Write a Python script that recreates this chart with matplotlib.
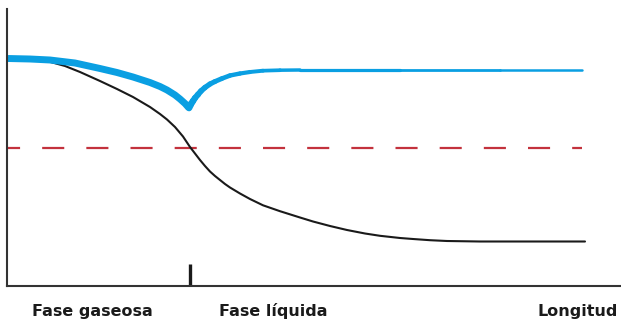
import matplotlib
matplotlib.use("Agg")
import matplotlib.pyplot as plt
from matplotlib.collections import LineCollection
import numpy as np

# data (x = longitud, y = arbitrary level)
black_x = [8, 30, 47, 65, 80, 100, 117, 133, 150, 160, 167, 175, 183, 190, 195, 200, 205, 210, 215,
           220, 225, 230, 240, 250, 263, 280, 300, 313, 330, 347, 365, 380, 400, 413, 430, 447, 480, 585]
black_y = [228, 227, 225, 220, 214, 205, 197, 189, 179, 172, 166.5, 159, 149.5, 139, 132.5, 126, 120, 114.5, 110,
           106, 102, 98.5, 92.5, 87, 80.7, 74.8, 68.5, 64.5, 60, 56, 52.5, 50.2, 48, 47, 45.8, 45, 44.5, 44.5]

blue_gas_x = [8, 30, 50, 75, 100, 117, 133, 150, 160, 167, 175, 180, 185, 189]
blue_gas_y = [227.5, 227, 226, 223, 217.5, 213.5, 209, 203.5, 199.5, 196, 191, 187, 182.5, 178]

blue_liq_x = [189, 191, 193, 195, 198, 201, 205, 210, 215, 222, 230, 240, 250, 263, 280, 300, 400, 500, 582]
blue_liq_y = [178, 182, 185, 188, 191.5, 195, 198.5, 202, 204.5, 207.5, 210.5, 212.5, 214, 215.3, 215.8, 216,
              216, 216, 216]

ref_x = [8, 582]
ref_y = [138, 138]

phase_boundary = 190
labels = ["Fase gaseosa", "Fase líquida", "Longitud"]

blue = "#0a9fe2"
red = "#c3323d"
dark = "#333333"

plt.rcParams['lines.scale_dashes'] = False

fig = plt.figure(figsize=(6.21, 3.22), dpi=100)
W, H = 621, 322
ax = fig.add_axes([7 / W, (H - 286) / H, 614 / W, 277 / H])
ax.set_xlim(7, 621)
ax.set_ylim(0, 277)

# dashed reference line
ax.plot(ref_x, ref_y, color=red, lw=1.6, linestyle=(7.2, (15.9, 15.9)), dash_capstyle='butt')

# black curve
ax.plot(black_x, black_y, color="#1a1a1a", lw=1.5, solid_capstyle='round', solid_joinstyle='round')

# blue curve, thick in gas phase
ax.plot(blue_gas_x, blue_gas_y, color=blue, lw=5, solid_capstyle='butt', solid_joinstyle='round')

# blue curve in liquid phase, tapering
pts = np.column_stack([blue_liq_x, blue_liq_y])
segs = np.stack([pts[:-1], pts[1:]], axis=1)
widths = list(np.linspace(4.8, 2.5, 15)) + [2.3, 2.0, 1.8]
lc = LineCollection(segs, colors=blue, linewidths=widths, capstyle='round', joinstyle='round')
ax.add_collection(lc)

for side in ['top', 'right']:
    ax.spines[side].set_visible(False)
for side in ['left', 'bottom']:
    ax.spines[side].set_color(dark)
    ax.spines[side].set_linewidth(1.5)

ax.set_yticks([])
ax.set_xticks([phase_boundary])
ax.set_xticklabels([])
ax.tick_params(axis='x', direction='in', length=15.5, width=2.4, color="#1a1a1a")

font = dict(family=['DejaVu Sans'], weight='bold', size=11.5, color="#1a1a1a")
ty = 1 - 316 / H
fig.text(92 / W, ty, labels[0], ha='center', va='baseline', **font)
fig.text(273 / W, ty, labels[1], ha='center', va='baseline', **font)
fig.text(618 / W, ty, labels[2], ha='right', va='baseline', **font)

fig.savefig("out.png", dpi=100)
